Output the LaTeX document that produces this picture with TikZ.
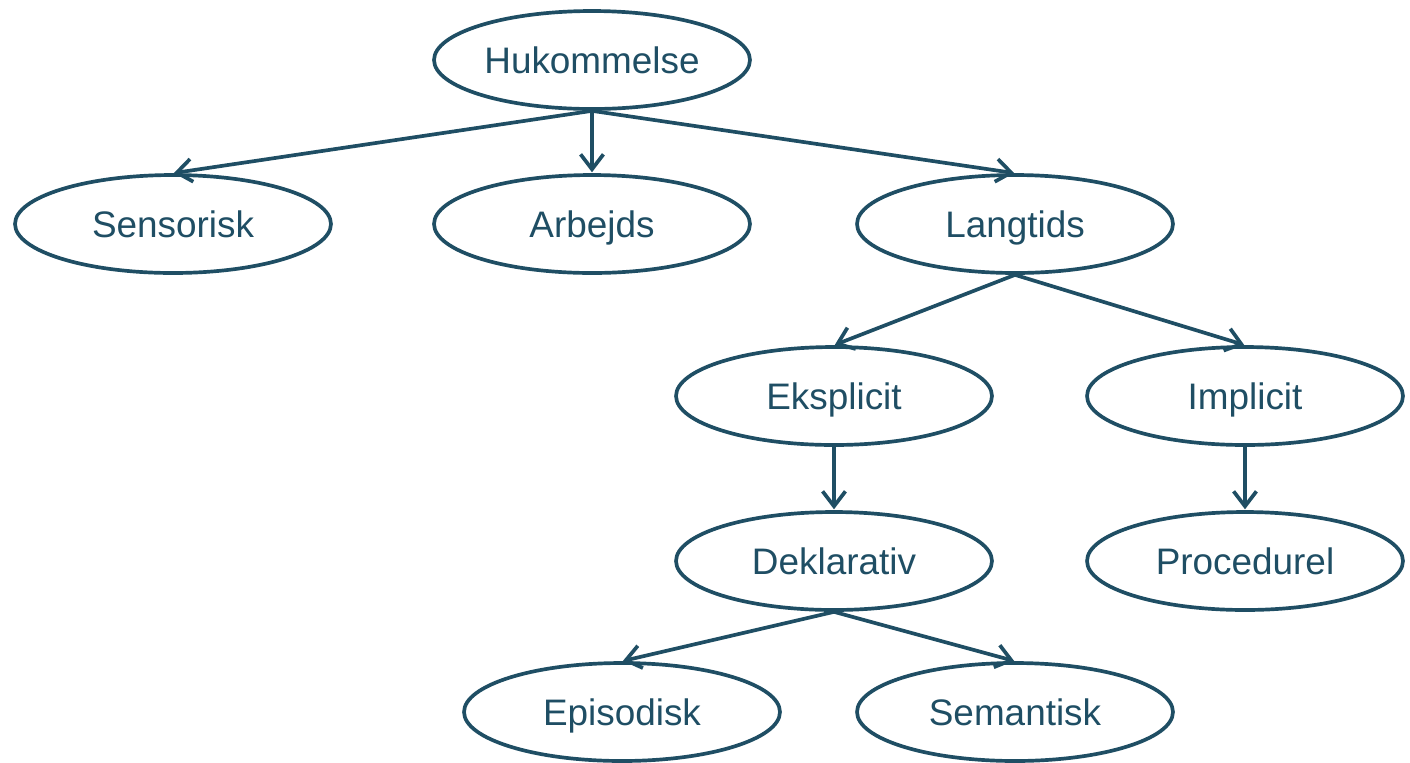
\documentclass[tikz,border=0pt]{standalone}
\usepackage{fontspec}
\setmainfont{Liberation Sans}
\usetikzlibrary{shapes.geometric,arrows.meta}
\definecolor{ink}{HTML}{1F4E64}
\begin{document}
\begin{tikzpicture}[x=0.02cm,y=-0.02cm,
  mem/.style={ellipse,draw=ink,line width=2.1pt,minimum width=6.32cm,minimum height=1.96cm,inner sep=0pt,text=ink,font=\fontsize{21}{25}\selectfont,text height=16pt,text depth=1pt},
  link/.style={draw=ink,line width=2.1pt,-{Straight Barb[length=8.5pt,width=13pt,line width=2.1pt]},shorten >=0.5pt}]
\useasboundingbox (0,0) rectangle (1410,762);
\node[mem] (huk) at (592,60) {Hukommelse};
\node[mem] (sen) at (173,224) {Sensorisk};
\node[mem] (arb) at (592,224) {Arbejds};
\node[mem] (lan) at (1015,224) {Langtids};
\node[mem] (eks) at (834,396) {Eksplicit};
\node[mem] (imp) at (1245,396) {Implicit};
\node[mem] (dek) at (834,561) {Deklarativ};
\node[mem] (pro) at (1245,561) {Procedurel};
\node[mem] (epi) at (622,712) {Episodisk};
\node[mem] (sem) at (1015,712) {Semantisk};
\draw[link] (huk.south) -- (sen.north);
\draw[link] (huk.south) -- (arb.north);
\draw[link] (huk.south) -- (lan.north);
\draw[link] (lan.south) -- (eks.north);
\draw[link] (lan.south) -- (imp.north);
\draw[link] (eks.south) -- (dek.north);
\draw[link] (imp.south) -- (pro.north);
\draw[link] (dek.south) -- (epi.north);
\draw[link] (dek.south) -- (sem.north);
\end{tikzpicture}
\end{document}
